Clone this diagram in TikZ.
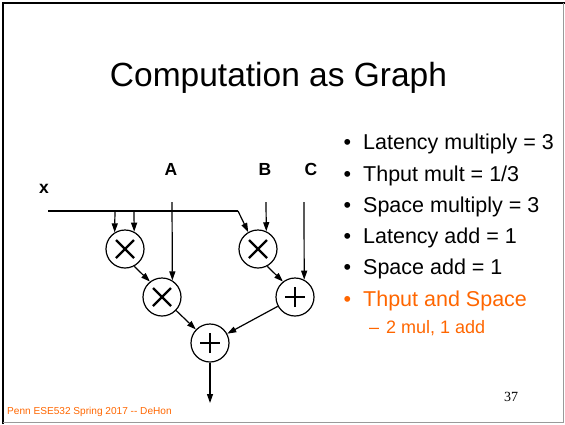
\documentclass[tikz,border=0pt]{standalone}
\usepackage{fontspec}
\setmainfont{Liberation Sans}
\newfontfamily\numfont{Liberation Serif}
\usetikzlibrary{arrows.meta}
\definecolor{penn}{HTML}{FF6600}
\definecolor{edge}{HTML}{9A9A9A}
\newcommand{\bul}{\makebox[0pt][r]{\textbullet\hspace{12pt}}}
\tikzset{
  op/.style={circle,draw,line width=1.2pt,minimum size=38pt,inner sep=0pt},
  mulnode/.style={op,path picture={
    \draw[line width=2.4pt] ([shift={(-9pt,-9pt)}]path picture bounding box.center) -- ++(18pt,18pt)
      ([shift={(-9pt,9pt)}]path picture bounding box.center) -- ++(18pt,-18pt);}},
  addnode/.style={op,path picture={
    \draw[line width=2.6pt] ([xshift=-10pt]path picture bounding box.center) -- ++(20pt,0pt)
      ([yshift=-10pt]path picture bounding box.center) -- ++(0pt,20pt);}},
  lbl/.style={font=\fontsize{17.5}{20}\selectfont\bfseries,anchor=base,inner sep=0pt},
  item/.style={font=\fontsize{21.5}{24}\selectfont,anchor=base west,inner sep=0pt},
  ar/.style={-{Triangle[length=9pt,width=6pt]},line width=1.2pt},
}
\begin{document}
\begin{tikzpicture}[x=1pt,y=-1pt]
\useasboundingbox (0,0) rectangle (565,424);
% slide frame
\draw[line width=2.5pt] (3.2,424) -- (3.2,3.2) -- (565,3.2);
\draw[edge,line width=1pt] (563.5,3) -- (563.5,422.5) -- (3,422.5);
\node[font=\fontsize{33.5}{40}\selectfont,anchor=base,inner sep=0pt] (title) at (278.5,86) {Computation as Graph};

% operators
\node[mulnode] (m1) at (125,249) {};
\node[mulnode] (m2) at (162,297) {};
\node[mulnode] (m3) at (258,249) {};
\node[addnode] (a1) at (295,297) {};
\node[addnode] (a2) at (210,343) {};

% inputs
\node[lbl] (lx) at (44,193) {x};
\node[lbl] (la) at (171,175) {A};
\node[lbl] (lb) at (265,175) {B};
\node[lbl] (lc) at (311,175) {C};
\coordinate (xin) at (48,211);
\coordinate (xbend) at (238,211);
\coordinate (xd1) at (115,211);
\coordinate (xd2) at (134,211);
\coordinate (atop) at (172,202);
\coordinate (btop) at (266,202);
\coordinate (ctop) at (304,202);
\coordinate (out) at (210,403);

\draw[line width=1.2pt] (xin) -- (xbend);
\draw[ar] (xbend) -- (m3.120);
\draw[ar] (xd1) -- (m1.122);
\draw[ar] (xd2) -- (m1.62);
\draw[ar] (atop) -- (m2.58);
\draw[ar] (btop) -- (m3.65);
\draw[ar] (ctop) -- (a1.62);
\draw[ar] (m1.-62) -- (m2.128);
\draw[ar] (m3.-62) -- (a1.128);
\draw[ar] (m2) -- (a2);
\draw[ar] (a1) -- (a2);
\draw[ar] (a2) -- (out);

% bullets
\node[item] (b1) at (363,149.5) {\bul Latency multiply = 3};
\node[item] (b2) at (363,181) {\bul Thput mult = 1/3};
\node[item] (b3) at (363,212) {\bul Space multiply = 3};
\node[item] (b4) at (363,243) {\bul Latency add = 1};
\node[item] (b5) at (363,274) {\bul Space add = 1};
\node[item,text=penn] (b6) at (363,306) {\bul Thput and Space};
\node[item,font=\fontsize{18}{20}\selectfont,text=penn] (b7) at (369,333) {–\hspace{7pt}2 mul, 1 add};

% footer
\node[font=\fontsize{10.1}{12}\selectfont,text=penn,anchor=base west,inner sep=0pt] (foot) at (7,414) {Penn ESE532 Spring 2017 -{}- DeHon};
\node[font=\fontsize{14}{16}\selectfont\numfont,anchor=base west,inner sep=0pt] (page) at (504,401) {37};
\end{tikzpicture}
\end{document}
